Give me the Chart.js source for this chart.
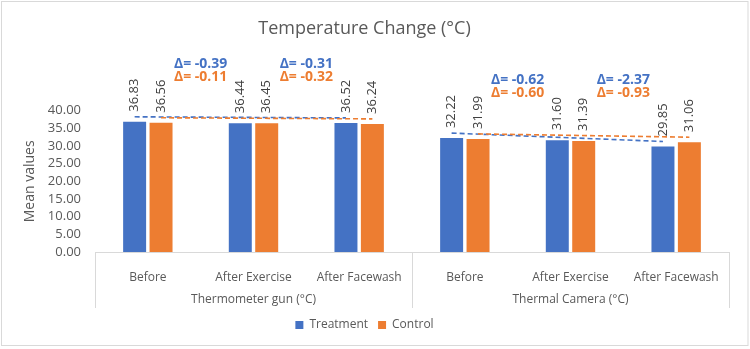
<!DOCTYPE html>
<html>
<head>
<meta charset="utf-8">
<script src="https://cdn.jsdelivr.net/npm/chart.js@4/dist/chart.umd.min.js"></script>
<style>
  html, body { margin: 0; padding: 0; background: #fff; }
  #wrap { width: 750px; height: 349px; position: relative; }
</style>
</head>
<body>
<div id="wrap"><canvas id="c" width="750" height="349"></canvas></div>
<script>
const categories = ['Before', 'After Exercise', 'After Facewash', 'Before', 'After Exercise', 'After Facewash'];
const groups = ['Thermometer gun (°C)', 'Thermal Camera (°C)'];
const treatment = [36.83, 36.44, 36.52, 32.22, 31.60, 29.85];
const control = [36.56, 36.45, 36.24, 31.99, 31.39, 31.06];
const deltaTreatment = ['-0.39', '-0.31', '-0.62', '-2.37'];
const deltaControl = ['-0.11', '-0.32', '-0.60', '-0.93'];
const yTicks = [0, 5, 10, 15, 20, 25, 30, 35, 40];

const BLUE = '#4472C4', ORANGE = '#ED7D31', GRAY = '#595959', LINE = '#D9D9D9';
const FONT = "'Open Sans', sans-serif";

const decor = {
  id: 'decor',
  beforeDraw(chart) {
    const ctx = chart.ctx;
    ctx.save();
    ctx.fillStyle = '#fff';
    ctx.fillRect(0, 0, chart.width, chart.height);
    ctx.strokeStyle = LINE;
    ctx.lineWidth = 1;
    ctx.strokeRect(1.5, 1.5, chart.width - 3.5, chart.height - 5);
    ctx.restore();
  },
  afterDraw(chart) {
    const ctx = chart.ctx;
    const x = chart.scales.x;
    const area = chart.chartArea;
    const n = categories.length;
    const per = n / groups.length;
    const step = (x.right - x.left) / n;
    ctx.save();
    // separators
    ctx.strokeStyle = LINE;
    ctx.lineWidth = 1;
    for (let g = 0; g <= groups.length; g++) {
      const px = Math.round(x.left + g * per * step) + 0.5;
      ctx.beginPath();
      ctx.moveTo(px, area.bottom);
      ctx.lineTo(px, area.bottom + 56);
      ctx.stroke();
    }
    // group labels
    ctx.fillStyle = GRAY;
    ctx.font = '12px ' + FONT;
    ctx.textAlign = 'center';
    ctx.textBaseline = 'middle';
    groups.forEach((lab, g) => {
      const cx = x.left + (g + 0.5) * per * step;
      ctx.fillText(lab, cx, area.bottom + 48);
    });

    const m0 = chart.getDatasetMeta(0).data;
    const m1 = chart.getDatasetMeta(1).data;
    // dashed lines
    ctx.lineWidth = 1.6;
    ctx.setLineDash([5, 3]);
    for (let g = 0; g < groups.length; g++) {
      const a = g * per, b = g * per + per - 1;
      [[m0, BLUE], [m1, ORANGE]].forEach(([m, col]) => {
        ctx.strokeStyle = col;
        ctx.beginPath();
        ctx.moveTo(m[a].x, m[a].y - 5);
        ctx.lineTo(m[b].x, m[b].y - 5);
        ctx.stroke();
      });
    }
    ctx.setLineDash([]);

    // value labels
    ctx.fillStyle = '#404040';
    ctx.font = '13px ' + FONT;
    ctx.textAlign = 'left';
    ctx.textBaseline = 'middle';
    [[m0, treatment], [m1, control]].forEach(([m, vals]) => {
      m.forEach((el, i) => {
        ctx.save();
        ctx.translate(el.x, el.y - 10);
        ctx.rotate(-Math.PI / 2);
        ctx.fillText(vals[i].toFixed(2), 0, 0);
        ctx.restore();
      });
    });

    // delta annotations
    ctx.font = 'bold 14px ' + FONT;
    ctx.textAlign = 'center';
    let k = 0;
    for (let g = 0; g < groups.length; g++) {
      const base = m0[g * per].y;
      for (let j = 0; j < per - 1; j++) {
        const i = g * per + j;
        const cx = (x.getPixelForValue(i) + x.getPixelForValue(i + 1)) / 2;
        ctx.fillStyle = BLUE;
        ctx.fillText('Δ= ' + deltaTreatment[k], cx, base - 58);
        ctx.fillStyle = ORANGE;
        ctx.fillText('Δ= ' + deltaControl[k], cx, base - 45);
        k++;
      }
    }
    ctx.restore();
  }
};

new Chart(document.getElementById('c'), {
  type: 'bar',
  data: {
    labels: categories,
    datasets: [
      { label: 'Treatment', data: treatment, backgroundColor: BLUE, categoryPercentage: 0.5, barPercentage: 0.87 },
      { label: 'Control', data: control, backgroundColor: ORANGE, categoryPercentage: 0.5, barPercentage: 0.87 }
    ]
  },
  options: {
    responsive: false,
    animation: false,
    devicePixelRatio: 1,
    layout: { padding: { left: 0, right: 21, top: 0, bottom: 8 } },
    plugins: {
      title: {
        display: true,
        text: 'Temperature Change (°C)',
        color: GRAY,
        font: { family: FONT, size: 18, weight: 'normal' },
        padding: { top: 18, bottom: 71 }
      },
      legend: {
        position: 'bottom',
        labels: { color: GRAY, font: { family: FONT, size: 12 }, boxWidth: 8, boxHeight: 8, padding: 10 }
      },
      tooltip: { enabled: false }
    },
    scales: {
      x: {
        grid: { display: false },
        border: { color: LINE },
        ticks: { color: GRAY, font: { family: FONT, size: 12 }, maxRotation: 0, autoSkip: false, padding: 10 },
        afterFit(s) { s.height = 57; }
      },
      y: {
        min: 0, max: 40,
        afterBuildTicks(s) { s.ticks = yTicks.map(v => ({ value: v })); },
        grid: { display: false, drawTicks: false },
        border: { display: false },
        ticks: { color: GRAY, font: { family: FONT, size: 13 }, padding: 14, autoSkip: false, callback: v => Number(v).toFixed(2) },
        title: { display: true, text: 'Mean values', color: GRAY, font: { family: FONT, size: 14 }, padding: { top: 22, bottom: 0 } },
        afterFit(s) { s.width = 95; }
      }
    }
  },
  plugins: [decor]
});
</script>
</body>
</html>
